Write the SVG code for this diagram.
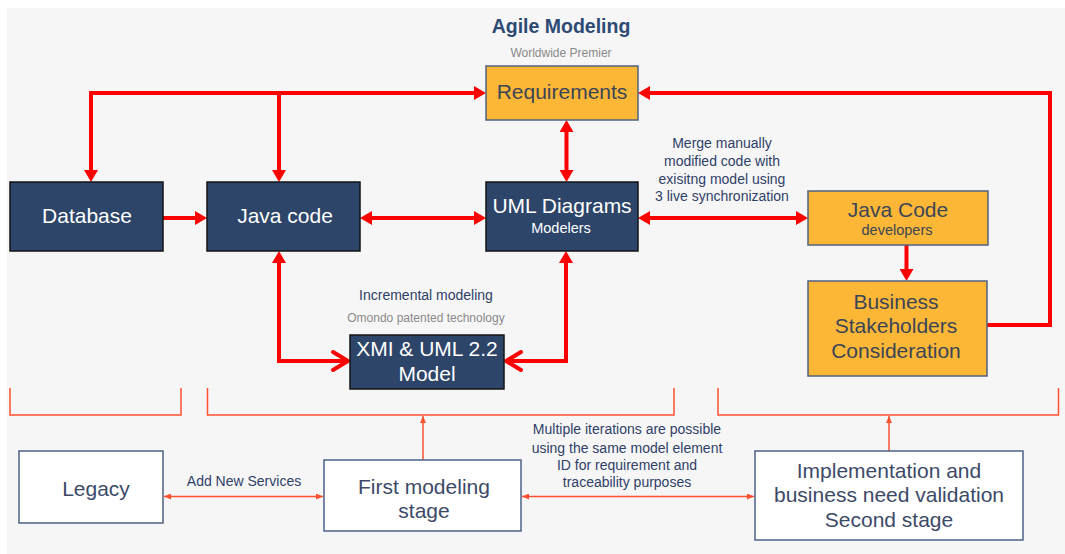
<svg xmlns="http://www.w3.org/2000/svg" width="1065" height="554" viewBox="0 0 1065 554">
  <style>
    text { font-family: "Liberation Sans", Arial, sans-serif; text-anchor: middle; }
    .navy { fill: #2c4569; stroke: #151515; stroke-width: 1.5; }
    .gold { fill: #fbb735; stroke: #4f6282; stroke-width: 1.5; }
    .plain { fill: #ffffff; stroke: #4d6286; stroke-width: 1.5; }
    .wt { fill: #ffffff; font-size: 21px; }
    .ws { fill: #ffffff; font-size: 14.5px; }
    .gt { fill: #3b4558; font-size: 21px; }
    .gs { fill: #3b4558; font-size: 14.5px; }
    .bt { fill: #3c4a68; font-size: 21px; }
    .lbl { fill: #2f4168; font-size: 14px; }
    .note { fill: #8a8a8a; font-size: 12px; }
    .thick { fill: none; stroke: #ff0000; stroke-width: 4; }
    .thin { fill: none; stroke: #ff5030; stroke-width: 1.5; }
  </style>
  <defs>
    <marker id="ah" viewBox="0 0 12 14" refX="6" refY="7" markerWidth="12" markerHeight="14" markerUnits="userSpaceOnUse" orient="auto-start-reverse">
      <path d="M0,0 L12,7 L0,14 z" fill="#ff0000"/>
    </marker>
    <marker id="chev" viewBox="-18 -11 20 22" refX="0" refY="0" markerWidth="20" markerHeight="22" markerUnits="userSpaceOnUse" orient="auto-start-reverse" overflow="visible">
      <path d="M-15,-9 L0,0 L-15,9" fill="none" stroke="#ff0000" stroke-width="4" stroke-linejoin="round" stroke-linecap="round"/>
    </marker>
    <marker id="sm" viewBox="0 0 7 6" refX="7" refY="3" markerWidth="7" markerHeight="6" markerUnits="userSpaceOnUse" orient="auto-start-reverse">
      <path d="M0,0 L7,3 L0,6 z" fill="#ff5030"/>
    </marker>
  </defs>

  <!-- canvas -->
  <rect x="7" y="8" width="1058" height="546" fill="#f6f6f6"/>

  <!-- heading -->
  <text x="561" y="33" font-size="19.5" font-weight="bold" fill="#2d4a74" style="text-anchor:middle">Agile Modeling</text>
  <text x="561" y="57" class="note">Worldwide Premier</text>

  <!-- connectors -->
  <g id="connectors">
    <path class="thick" d="M91,176 V93 H480" marker-start="url(#ah)" marker-end="url(#ah)"/>
    <path class="thick" d="M279,93 V176" marker-end="url(#ah)"/>
    <path class="thick" d="M163,218 H201" marker-end="url(#ah)"/>
    <path class="thick" d="M366,218 H480" marker-start="url(#ah)" marker-end="url(#ah)"/>
    <path class="thick" d="M566.5,126 V176" marker-start="url(#ah)" marker-end="url(#ah)"/>
    <path class="thick" d="M644,218 H802" marker-start="url(#ah)" marker-end="url(#ah)"/>
    <path class="thick" d="M906.5,245 V275" marker-end="url(#ah)"/>
    <path class="thick" d="M987,325 H1050 V93 H644" marker-end="url(#ah)"/>
    <path class="thick" d="M279,257 V361 H348" marker-start="url(#ah)" marker-end="url(#chev)"/>
    <path class="thick" d="M566,257 V361 H506" marker-start="url(#ah)" marker-end="url(#chev)"/>

    <path class="thin" d="M10,388 V415 H181 V388"/>
    <path class="thin" d="M207.5,388 V415 H674 V388"/>
    <path class="thin" d="M718,388 V415 H1058.5 V388"/>
    <path class="thin" d="M423,460 V416" marker-end="url(#sm)"/>
    <path class="thin" d="M889,451 V416" marker-end="url(#sm)"/>
    <path class="thin" d="M164,496.5 H323" marker-start="url(#sm)" marker-end="url(#sm)"/>
    <path class="thin" d="M522,496.5 H754" marker-start="url(#sm)" marker-end="url(#sm)"/>
  </g>

  <!-- upper nodes -->
  <g id="requirements">
    <rect class="gold" x="486" y="66" width="152" height="54"/>
    <text x="562" y="99" class="gt">Requirements</text>
  </g>
  <g id="database">
    <rect class="navy" x="10" y="182" width="153" height="69"/>
    <text x="87" y="223" class="wt">Database</text>
  </g>
  <g id="java-code">
    <rect class="navy" x="207" y="182" width="153" height="69"/>
    <text x="285" y="223" class="wt">Java code</text>
  </g>
  <g id="uml-diagrams">
    <rect class="navy" x="486" y="182" width="152" height="69"/>
    <text x="562" y="213" class="wt">UML Diagrams</text>
    <text x="561" y="233" class="ws">Modelers</text>
  </g>
  <g id="java-code-developers">
    <rect class="gold" x="808" y="191" width="180" height="54"/>
    <text x="898" y="217" class="gt">Java Code</text>
    <text x="897" y="235" class="gs">developers</text>
  </g>
  <g id="business-stakeholders">
    <rect class="gold" x="808" y="281" width="179" height="95"/>
    <text x="896" y="309" class="gt">Business</text>
    <text x="896" y="333" class="gt">Stakeholders</text>
    <text x="896" y="358" class="gt">Consideration</text>
  </g>
  <g id="xmi-model">
    <rect class="navy" x="350" y="335" width="154" height="54"/>
    <text x="427" y="356" class="wt">XMI &amp; UML 2.2</text>
    <text x="427" y="381" class="wt">Model</text>
  </g>

  <!-- annotations -->
  <g id="merge-note">
    <text x="722" y="148" class="lbl">Merge manually</text>
    <text x="722" y="166" class="lbl">modified code with</text>
    <text x="722" y="184" class="lbl">exisitng model using</text>
    <text x="722" y="201" class="lbl">3 live synchronization</text>
  </g>
  <g id="incremental-note">
    <text x="426" y="300" class="lbl">Incremental modeling</text>
    <text x="426" y="322" class="note">Omondo patented technology</text>
  </g>

  <!-- stage nodes -->
  <g id="legacy">
    <rect class="plain" x="19" y="451" width="144" height="72"/>
    <text x="96" y="496" class="bt">Legacy</text>
  </g>
  <g id="first-modeling-stage">
    <rect class="plain" x="324" y="460" width="197" height="71"/>
    <text x="424" y="494" class="bt">First modeling</text>
    <text x="424" y="518" class="bt">stage</text>
  </g>
  <g id="second-stage">
    <rect class="plain" x="755" y="451" width="268" height="89"/>
    <text x="889" y="478" class="bt">Implementation and</text>
    <text x="889" y="502" class="bt">business need validation</text>
    <text x="889" y="527" class="bt">Second stage</text>
  </g>

  <g id="stage-notes">
    <text x="244" y="486" class="lbl" font-size="13.5">Add New Services</text>
    <text x="627" y="434" class="lbl">Multiple iterations are possible</text>
    <text x="627" y="453" class="lbl">using the same model element</text>
    <text x="627" y="470" class="lbl">ID for requirement and</text>
    <text x="627" y="487" class="lbl">traceability purposes</text>
  </g>
</svg>
